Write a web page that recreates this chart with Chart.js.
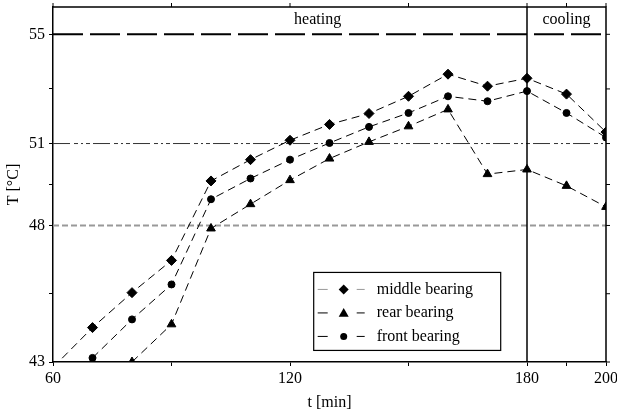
<!DOCTYPE html>
<html>
<head>
<meta charset="utf-8">
<script src="https://cdn.jsdelivr.net/npm/chart.js@4/dist/chart.umd.min.js"></script>
<style>
  html, body { margin: 0; padding: 0; background: #fff; }
  #wrap { width: 617px; height: 412px; }
</style>
</head>
<body>
<div id="wrap"><canvas id="chart" width="617" height="412"></canvas></div>
<script>
  // time [min]
  const times = [60, 70, 80, 90, 100, 110, 120, 130, 140, 150, 160, 170, 180, 190, 200];

  // temperatures [°C]
  const middleBearing = [42.8, 44.26, 45.54, 46.72, 49.63, 50.41, 51.12, 51.70, 52.10, 52.73, 53.54, 53.10, 53.39, 52.81, 51.42];
  const rearBearing   = [null, null, 43.0, 44.38, 47.89, 48.78, 49.66, 50.45, 51.06, 51.63, 52.25, 49.88, 50.05, 49.45, 48.68];
  const frontBearing  = [null, 43.15, 44.56, 45.84, 48.96, 49.72, 50.41, 51.02, 51.61, 52.12, 52.73, 52.55, 52.92, 52.12, 51.22];

  const seriesNames = ['middle bearing', 'rear bearing', 'front bearing'];

  const xTicks = [60, 90, 120, 150, 180, 190, 200];
  const xTickLabels = [60, 120, 180, 200];
  const yTicks = [43, 45.5, 48, 49.5, 51, 53, 55];
  const yTickLabels = [43, 48, 51, 55];

  // reference levels and phase boundary
  const limitHigh = 55;
  const limitMid = 51;
  const limitLow = 48;
  const phaseSwitch = 180;
  const phases = [{ text: 'heating', at: 127 }, { text: 'cooling', at: 190 }];

  const FONT = "'Liberation Serif', 'DejaVu Serif', serif";
  Chart.defaults.font.family = FONT;
  Chart.defaults.font.size = 16;
  Chart.defaults.color = '#000';

  const pts = vals => times.map((t, i) => ({ x: t, y: vals[i] }));

  const lineStyle = {
    borderColor: '#000',
    borderWidth: 1,
    borderDash: [8, 5],
    pointBackgroundColor: '#000',
    pointBorderColor: '#000',
    pointBorderWidth: 1,
    tension: 0,
    fill: false,
  };

  function drawMarker(ctx, style, x, y, r) {
    ctx.beginPath();
    if (style === 'rectRot') {
      ctx.moveTo(x, y - r); ctx.lineTo(x + r, y); ctx.lineTo(x, y + r); ctx.lineTo(x - r, y);
    } else if (style === 'triangle') {
      ctx.moveTo(x, y - r); ctx.lineTo(x + r, y + r * 0.75); ctx.lineTo(x - r, y + r * 0.75);
    } else {
      ctx.arc(x, y, r, 0, Math.PI * 2);
    }
    ctx.closePath();
    ctx.fill();
  }

  const decorations = {
    id: 'decorations',
    beforeDatasetsDraw(chart) {
      const { ctx, chartArea: a, scales: { x, y } } = chart;
      ctx.save();
      // 48 level: grey dashed
      ctx.strokeStyle = '#999';
      ctx.lineWidth = 2;
      ctx.setLineDash([6, 3]);
      let py = y.getPixelForValue(limitLow);
      ctx.beginPath(); ctx.moveTo(a.left, py); ctx.lineTo(a.right, py); ctx.stroke();
      // 51 level: dash-dot
      ctx.strokeStyle = '#333';
      ctx.lineWidth = 1;
      ctx.setLineDash([17, 4, 4, 3, 2, 3, 4, 3]);
      py = y.getPixelForValue(limitMid);
      ctx.beginPath(); ctx.moveTo(a.left, py); ctx.lineTo(a.right, py); ctx.stroke();
      // 55 level: long dashes
      ctx.strokeStyle = '#000';
      ctx.lineWidth = 2;
      ctx.setLineDash([30, 7]);
      py = y.getPixelForValue(limitHigh);
      ctx.beginPath(); ctx.moveTo(a.left, py); ctx.lineTo(a.right, py); ctx.stroke();
      // phase boundary
      ctx.setLineDash([]);
      ctx.lineWidth = 1.5;
      const px = x.getPixelForValue(phaseSwitch);
      ctx.beginPath(); ctx.moveTo(px, a.top); ctx.lineTo(px, a.bottom); ctx.stroke();
      // phase names
      ctx.fillStyle = '#000';
      ctx.font = '16px ' + FONT;
      ctx.textAlign = 'center';
      ctx.textBaseline = 'middle';
      phases.forEach(p => ctx.fillText(p.text, x.getPixelForValue(p.at), a.top + 13));
      ctx.restore();
    },
    afterDraw(chart) {
      const { ctx, chartArea: a, scales: { x, y } } = chart;
      ctx.save();
      // frame top/right with outward ticks
      ctx.strokeStyle = '#000';
      ctx.lineWidth = 1.5;
      ctx.beginPath();
      ctx.moveTo(a.left, a.top); ctx.lineTo(a.right, a.top); ctx.lineTo(a.right, a.bottom);
      ctx.stroke();
      ctx.lineWidth = 1;
      ctx.beginPath();
      xTicks.forEach(v => {
        const px = x.getPixelForValue(v);
        ctx.moveTo(px, a.top); ctx.lineTo(px, a.top - 4);
      });
      yTicks.forEach(v => {
        const py = y.getPixelForValue(v);
        ctx.moveTo(a.right, py); ctx.lineTo(a.right + 4, py);
      });
      ctx.stroke();

      // legend box
      const lx = x.getPixelForValue(126), ly = y.getPixelForValue(46.28);
      const lw = 187, lh = 78;
      ctx.fillStyle = '#fff';
      ctx.fillRect(lx, ly, lw, lh);
      ctx.strokeStyle = '#000';
      ctx.lineWidth = 1.2;
      ctx.strokeRect(lx, ly, lw, lh);
      ctx.font = '16px ' + FONT;
      ctx.textAlign = 'left';
      ctx.textBaseline = 'middle';
      chart.data.datasets.forEach((ds, i) => {
        const ry = ly + 17 + i * 23.5;
        ctx.strokeStyle = i === 0 ? '#999' : '#000';
        ctx.lineWidth = 1;
        ctx.beginPath();
        ctx.moveTo(lx + 4, ry); ctx.lineTo(lx + 14, ry);
        ctx.moveTo(lx + 43, ry); ctx.lineTo(lx + 51, ry);
        ctx.stroke();
        ctx.fillStyle = '#000';
        drawMarker(ctx, ds.pointStyle, lx + 30, ry, ds.pointStyle === 'circle' ? 3.5 : 5);
        ctx.fillText(ds.label, lx + 63, ry);
      });
      ctx.restore();
    },
  };

  new Chart(document.getElementById('chart'), {
    type: 'line',
    data: {
      datasets: [
        { ...lineStyle, label: seriesNames[0], data: pts(middleBearing), pointStyle: 'rectRot', pointRadius: 5 },
        { ...lineStyle, label: seriesNames[1], data: pts(rearBearing), pointStyle: 'triangle', pointRadius: 5 },
        { ...lineStyle, label: seriesNames[2], data: pts(frontBearing), pointStyle: 'circle', pointRadius: 3.5 },
      ],
    },
    options: {
      responsive: false,
      animation: false,
      layout: { padding: { top: 7, right: 11, left: 0, bottom: 0 } },
      plugins: { legend: { display: false }, tooltip: { enabled: false } },
      scales: {
        x: {
          type: 'linear',
          min: 60,
          max: 200,
          afterBuildTicks: s => { s.ticks = xTicks.map(v => ({ value: v })); },
          afterFit: s => { s.height = 50; s.paddingLeft = 0; s.paddingRight = 0; },
          grid: { drawOnChartArea: false, drawTicks: true, tickLength: 4, color: '#000' },
          border: { display: true, color: '#000', width: 1.5 },
          ticks: {
            padding: 3,
            maxRotation: 0,
            autoSkip: false,
            callback: v => (xTickLabels.includes(v) ? String(v) : ''),
          },
          title: { display: true, text: 't [min]', padding: { top: 0, bottom: 0 }, font: { size: 16 } },
        },
        y: {
          type: 'linear',
          min: 43,
          max: 56,
          afterBuildTicks: s => { s.ticks = yTicks.map(v => ({ value: v })); },
          afterFit: s => { s.width = 53; s.paddingTop = 0; s.paddingBottom = 0; },
          grid: { drawOnChartArea: false, drawTicks: true, tickLength: 4, color: '#000' },
          border: { display: true, color: '#000', width: 1.5 },
          ticks: {
            padding: 4,
            autoSkip: false,
            callback: v => (yTickLabels.includes(v) ? String(v) : ''),
          },
          title: { display: true, text: 'T [°C]', padding: { top: 4, bottom: 0 }, font: { size: 16 } },
        },
      },
    },
    plugins: [decorations],
  });
</script>
</body>
</html>
